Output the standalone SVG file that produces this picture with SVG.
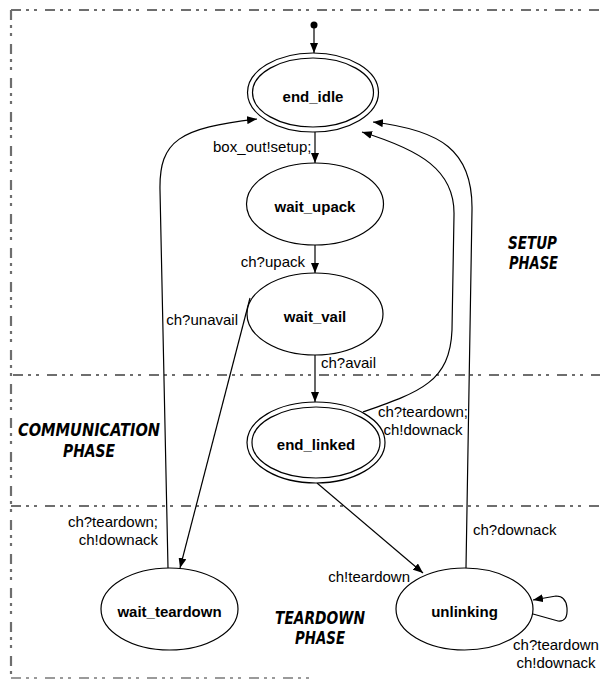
<svg xmlns="http://www.w3.org/2000/svg" width="600" height="679" viewBox="0 0 600 679">
  <style>
    .phase-line { fill: none; stroke: #6e6e6e; stroke-width: 2.2; stroke-dasharray: 10 5 3 5 3 8; }
    .state { fill: #ffffff; stroke: #000000; stroke-width: 1.2; }
    .state-name { font-family: "Liberation Sans", Arial, sans-serif; font-size: 15px; font-weight: bold; text-anchor: middle; fill: #000000; }
    .edge { fill: none; stroke: #000000; stroke-width: 1.2; marker-end: url(#arrow); }
    .edge-label { font-family: "Liberation Sans", Arial, sans-serif; font-size: 15px; fill: #000000; }
    .phase-name { font-family: "DejaVu Sans Condensed", "DejaVu Sans", sans-serif; font-size: 17px; font-weight: bold; font-style: italic; fill: #000000; }
  </style>
  <defs>
    <marker id="arrow" markerUnits="userSpaceOnUse" markerWidth="11" markerHeight="8" refX="10" refY="4" orient="auto">
      <path d="M0,0 L10,4 L0,8 z" fill="#000000"/>
    </marker>
  </defs>

  <rect width="600" height="679" fill="#ffffff"/>

  <!-- phase boundaries -->
  <g id="phase-boundaries">
    <path class="phase-line" d="M11,10 H600"/>
    <path class="phase-line" d="M11,10 V678"/>
    <path class="phase-line" d="M13,375 H600"/>
    <path class="phase-line" d="M11,506 H600"/>
    <path class="phase-line" d="M11,678 H310" style="stroke:#9a9a9a"/>
  </g>

  <!-- phase titles -->
  <g id="phase-titles">
    <text class="phase-name">
      <tspan x="508" y="249" textLength="49" lengthAdjust="spacingAndGlyphs">SETUP</tspan>
      <tspan x="509" y="269" textLength="49" lengthAdjust="spacingAndGlyphs">PHASE</tspan>
    </text>
    <text class="phase-name">
      <tspan x="18" y="436" textLength="142" lengthAdjust="spacingAndGlyphs">COMMUNICATION</tspan>
      <tspan x="63" y="457" textLength="52" lengthAdjust="spacingAndGlyphs">PHASE</tspan>
    </text>
    <text class="phase-name">
      <tspan x="275" y="624" textLength="90" lengthAdjust="spacingAndGlyphs">TEARDOWN</tspan>
      <tspan x="295" y="644" textLength="50" lengthAdjust="spacingAndGlyphs">PHASE</tspan>
    </text>
  </g>

  <!-- transitions -->
  <g id="connectors">
    <circle cx="314" cy="25" r="3.5" fill="#000000"/>
    <path class="edge" d="M314,28 V53"/>
    <path class="edge" d="M315,132 V163"/>
    <path class="edge" d="M315,245 V273"/>
    <path class="edge" d="M315,355 V402"/>
    <path class="edge" d="M250,298 L180,568"/>
    <path class="edge" d="M168,568 L160,190 C159,140 180,128 257,119"/>
    <path class="edge" d="M363,412 C420,392 450,382 452,330 L454,215 C455,170 420,150 362,132"/>
    <path class="edge" d="M466,568 L472,210 C473,150 440,130 373,122"/>
    <path class="edge" d="M317,483 L423,573"/>
    <path class="edge" d="M533,614 L558,621 Q568,622 567,608 Q566,596 556,596 L533,600"/>

    <text class="edge-label" x="213" y="152">box_out!setup;</text>
    <text class="edge-label" x="305" y="267" text-anchor="end">ch?upack</text>
    <text class="edge-label" x="238" y="325" text-anchor="end">ch?unavail</text>
    <text class="edge-label" x="321" y="368">ch?avail</text>
    <text class="edge-label" x="423" y="417" text-anchor="middle">ch?teardown;</text>
    <text class="edge-label" x="423" y="435" text-anchor="middle">ch!downack</text>
    <text class="edge-label" x="158" y="527" text-anchor="end">ch?teardown;</text>
    <text class="edge-label" x="158" y="545" text-anchor="end">ch!downack</text>
    <text class="edge-label" x="473" y="535">ch?downack</text>
    <text class="edge-label" x="410" y="582" text-anchor="end">ch!teardown</text>
    <text class="edge-label" x="556" y="650" text-anchor="middle">ch?teardown</text>
    <text class="edge-label" x="556" y="668" text-anchor="middle">ch!downack</text>
  </g>

  <!-- states -->
  <g id="end_idle">
    <ellipse class="state" cx="313" cy="92.5" rx="65.5" ry="39.5"/>
    <ellipse class="state" cx="313" cy="92.5" rx="60.5" ry="34.5"/>
    <text class="state-name" x="313" y="102">end_idle</text>
  </g>
  <g id="wait_upack">
    <ellipse class="state" cx="315" cy="204" rx="68.5" ry="41"/>
    <text class="state-name" x="315" y="212">wait_upack</text>
  </g>
  <g id="wait_vail">
    <ellipse class="state" cx="315" cy="314" rx="68" ry="41"/>
    <text class="state-name" x="315" y="322">wait_vail</text>
  </g>
  <g id="end_linked">
    <ellipse class="state" cx="316" cy="442.5" rx="69" ry="40.5"/>
    <ellipse class="state" cx="316" cy="442.5" rx="64" ry="35.5"/>
    <text class="state-name" x="316" y="450">end_linked</text>
  </g>
  <g id="wait_teardown">
    <ellipse class="state" cx="169.5" cy="609" rx="68.5" ry="41"/>
    <text class="state-name" x="169.5" y="617">wait_teardown</text>
  </g>
  <g id="unlinking">
    <ellipse class="state" cx="464.5" cy="609" rx="68.5" ry="41"/>
    <text class="state-name" x="464.5" y="617">unlinking</text>
  </g>
</svg>
